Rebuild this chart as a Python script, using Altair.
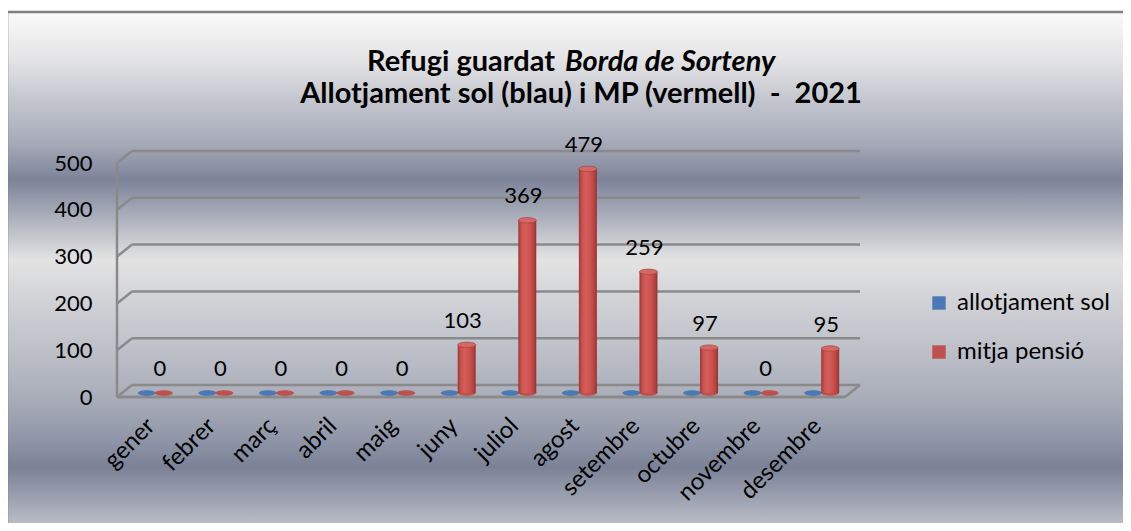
import altair as alt
import pandas as pd

# ---- data -------------------------------------------------------------
mesos = ["gener", "febrer", "març", "abril", "maig", "juny", "juliol",
         "agost", "setembre", "octubre", "novembre", "desembre"]
allotjament_sol = [0, 0, 0, 0, 0, 0, 0, 0, 0, 0, 0, 0]
mitja_pensio = [0, 0, 0, 0, 0, 103, 369, 479, 259, 97, 0, 95]
series = ["allotjament sol", "mitja pensió"]
y_ticks = [0, 100, 200, 300, 400, 500]

rows = []
for i, m in enumerate(mesos):
    rows.append({"mes": m, "serie": series[0], "valor": allotjament_sol[i], "cero": 0})
    rows.append({"mes": m, "serie": series[1], "valor": mitja_pensio[i], "cero": 0})
df = pd.DataFrame(rows)
grid_df = pd.DataFrame({"valor": y_ticks})
one = pd.DataFrame({"k": [0]})

FONT = "Lato"
W, H = 727, 234
ELLIPSE = "M -1 0 A 1 0.3 0 1 0 1 0 A 1 0.3 0 1 0 -1 0 Z"
EDGE = "#8a8a8a"

yscale = alt.Scale(domain=[0, 500], nice=False, zero=True)
yaxis = alt.Axis(values=y_ticks, grid=False, domain=False, ticks=False,
                 labelPadding=33, title=None, labelFontSize=22, labelFont=FONT,
                 labelColor="black", zindex=5)
xdef = alt.X("mes:N", sort=mesos,
             scale=alt.Scale(paddingInner=0.44, paddingOuter=0.22),
             axis=alt.Axis(title=None, labelAngle=-45, labelAlign="right",
                           labelBaseline="middle", domain=False, ticks=False,
                           labelPadding=25, labelOffset=-4, labelFontSize=24,
                           labelFont=FONT, labelColor="black", zindex=5))
xoff = alt.XOffset("serie:N", scale=alt.Scale(domain=series))

# ---- background -------------------------------------------------------
bg_grad = alt.Gradient(
    gradient="linear", x1=0, x2=0, y1=0, y2=1,
    stops=[
        alt.GradientStop(color="#fafafa", offset=0.0),
        alt.GradientStop(color="#e4e4e6", offset=0.09),
        alt.GradientStop(color="#c3c6ce", offset=0.17),
        alt.GradientStop(color="#a7abb9", offset=0.25),
        alt.GradientStop(color="#7d8499", offset=0.322),
        alt.GradientStop(color="#a9adba", offset=0.39),
        alt.GradientStop(color="#e3e3e3", offset=0.476),
        alt.GradientStop(color="#d2d3d7", offset=0.55),
        alt.GradientStop(color="#bdc0c8", offset=0.65),
        alt.GradientStop(color="#a8acb8", offset=0.745),
        alt.GradientStop(color="#9096a8", offset=0.82),
        alt.GradientStop(color="#7b8297", offset=0.873),
        alt.GradientStop(color="#a0a5b3", offset=0.94),
        alt.GradientStop(color="#c3c6cd", offset=1.0),
    ])
background = alt.Chart(one).mark_rect(
    fill=bg_grad, stroke="#7f7f7f", strokeWidth=2.5
).encode(x=alt.value(-118), x2=alt.value(1010),
         y=alt.value(-151), y2=alt.value(370))

# ---- title ------------------------------------------------------------
TS = 29
t1a = alt.Chart(one).mark_text(text="Refugi guardat", align="right",
                               baseline="alphabetic", font=FONT, fontSize=TS,
                               fontWeight="bold", color="black"
                               ).encode(x=alt.value(430), y=alt.value(-92))
t1b = alt.Chart(one).mark_text(text="Borda de Sorteny", align="left",
                               baseline="alphabetic", font=FONT, fontSize=TS,
                               fontWeight="bold", fontStyle="italic", color="black"
                               ).encode(x=alt.value(440), y=alt.value(-92))
t2 = alt.Chart(one).mark_text(
    text="Allotjament sol (blau) i MP (vermell)\u00a0 -\u00a0 2021", align="center",
    baseline="alphabetic", font=FONT, fontSize=TS, fontWeight="bold", color="black"
).encode(x=alt.value(456), y=alt.value(-60))

# ---- 3D frame: back wall gridlines, floor, edges ---------------------------
back_grid = alt.Chart(grid_df).mark_rule(
    color=EDGE, strokeWidth=2.5, yOffset=-12
).encode(y=alt.Y("valor:Q", scale=yscale, axis=yaxis),
         x=alt.value(7), x2=alt.value(735))
connectors = alt.Chart(grid_df).mark_rule(
    color=EDGE, strokeWidth=2.5, y2Offset=-12
).encode(y=alt.Y("valor:Q", scale=yscale, axis=yaxis),
         y2=alt.Y2("valor:Q"), x=alt.value(-8), x2=alt.value(7))
left_edge = alt.Chart(one).mark_rule(color=EDGE, strokeWidth=2.5).encode(
    x=alt.value(-8), y=alt.datum(0, scale=yscale), y2=alt.datum(500))
floor_front = alt.Chart(one).mark_rule(color=EDGE, strokeWidth=3).encode(
    y=alt.datum(0, scale=yscale), x=alt.value(-8), x2=alt.value(720))
floor_right = alt.Chart(one).mark_rule(color=EDGE, strokeWidth=2.5, y2Offset=-12).encode(
    y=alt.datum(0, scale=yscale), y2=alt.datum(0), x=alt.value(720), x2=alt.value(735))

# ---- cylinders ------------------------------------------------------------
cyl_grad = alt.Gradient(
    gradient="linear", x1=0, x2=1, y1=0, y2=0,
    stops=[
        alt.GradientStop(color="#9c3835", offset=0.0),
        alt.GradientStop(color="#c9524e", offset=0.18),
        alt.GradientStop(color="#d65e5a", offset=0.38),
        alt.GradientStop(color="#c94f4b", offset=0.7),
        alt.GradientStop(color="#ad403d", offset=0.9),
        alt.GradientStop(color="#8e302d", offset=1.0),
    ])

base_ellipses = alt.Chart(df).mark_point(
    shape=ELLIPSE, size=324, filled=True, opacity=1, yOffset=-4
).encode(
    x=xdef, xOffset=xoff,
    y=alt.Y("cero:Q", scale=yscale, axis=yaxis),
    color=alt.Color("serie:N", scale=alt.Scale(domain=series,
                                               range=["#4a7ab5", "#c0504d"]),
                    legend=alt.Legend(orient="none", legendX=802, legendY=128,
                                      title=None, symbolType="square",
                                      symbolSize=180, symbolStrokeWidth=0,
                                      labelFontSize=24, labelFont=FONT,
                                      labelColor="black", labelOffset=6,
                                      rowPadding=25, padding=0, zindex=5)),
)

bars = alt.Chart(df).transform_filter(
    (alt.datum.serie == series[1]) & (alt.datum.valor > 0)
).mark_bar(width=18, fill=cyl_grad, yOffset=-4, y2Offset=-4).encode(
    x=xdef, xOffset=xoff,
    y=alt.Y("valor:Q", scale=yscale, axis=yaxis),
)

tops = alt.Chart(df).transform_filter(
    (alt.datum.serie == series[1]) & (alt.datum.valor > 0)
).mark_point(shape=ELLIPSE, size=324, filled=True, opacity=1,
             fill="#d46864", stroke="#a23d3a", strokeWidth=0.6, yOffset=-4).encode(
    x=xdef, xOffset=xoff,
    y=alt.Y("valor:Q", scale=yscale, axis=yaxis),
)

labels = alt.Chart(df).transform_filter(
    alt.datum.serie == series[1]
).mark_text(font=FONT, fontSize=22, color="black", dy=-28, dx=-4,
            baseline="middle").encode(
    x=xdef, xOffset=xoff,
    y=alt.Y("valor:Q", scale=yscale, axis=yaxis),
    text=alt.Text("valor:Q"),
)

chart = alt.layer(
    background, t1a, t1b, t2, back_grid, connectors, left_edge, floor_right,
    floor_front, base_ellipses, bars, tops, labels
).properties(
    width=W, height=H, autosize="none",
    padding={"left": 117, "top": 155, "right": 271, "bottom": 126},
).configure_view(stroke=None).configure(background="white")

chart.save("out.html", embed_options={"renderer": "svg", "actions": False})
